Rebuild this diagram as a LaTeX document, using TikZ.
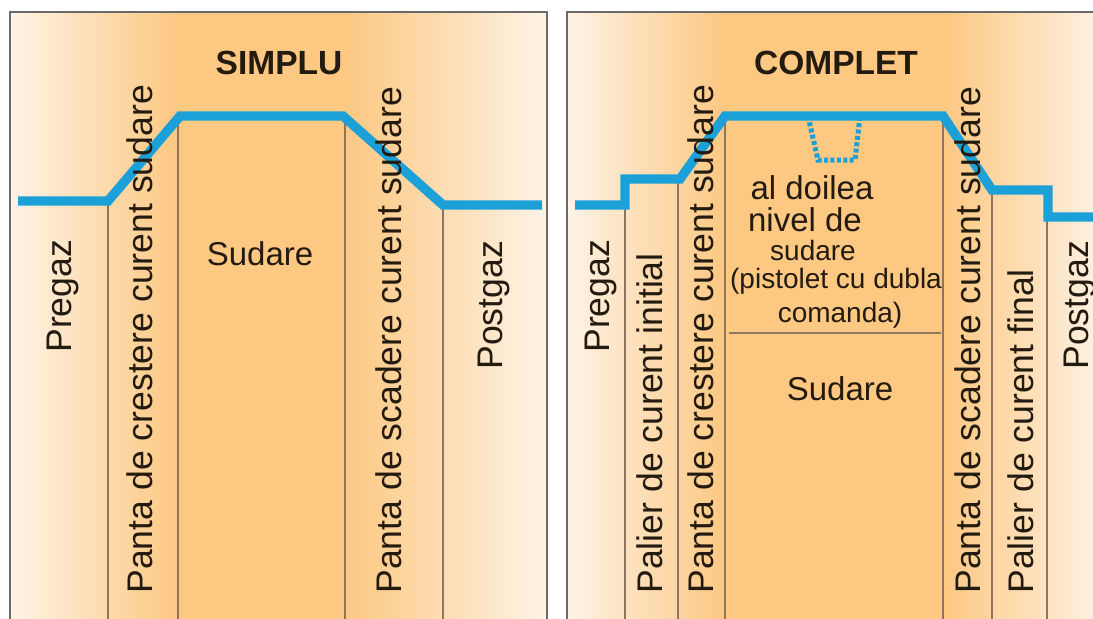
\documentclass[tikz,border=0pt]{standalone}
\usepackage{fontspec}
\setmainfont{Liberation Sans}
\usepackage{tikz}
\usetikzlibrary{positioning}
\definecolor{cream}{HTML}{FEF3E6}
\definecolor{amber}{HTML}{FCC882}
\definecolor{weldblue}{HTML}{1BA0D7}
\definecolor{sepline}{HTML}{8E7560}
\definecolor{framegray}{HTML}{6A6A6A}
\definecolor{ink}{HTML}{231A10}

\begin{document}
\begin{tikzpicture}[
        x=0.5pt, y=-0.5pt, % pixel grid, y down
        heading/.style={font=\fontsize{16.75}{18}\selectfont\bfseries, anchor=base, inner sep=0pt, text=ink},
        plain/.style={font=\fontsize{16.5}{18}\selectfont, anchor=base, inner sep=0pt, text=ink},
        note/.style={font=\fontsize{14}{16}\selectfont, anchor=base, inner sep=0pt, text=ink},
        phase/.style={font=\fontsize{17.8}{19}\selectfont, rotate=90, anchor=base west, inner sep=0pt, text=ink},
        current/.style={draw=weldblue, line width=4.7pt},
        divider/.style={draw=sepline, line width=0.7pt},
        panel/.style={draw=framegray, line width=1.2pt}
    ]
    \useasboundingbox (0,0) rectangle (1093,618);
    \clip (0,0) rectangle (1093,618);

    % --- Backgrounds ---
    \fill[left color=cream, right color=amber] (10,12) rectangle (178,640);
    \fill[amber] (178,12) rectangle (345,640);
    \fill[left color=amber, right color=cream] (345,12) rectangle (547,640);

    \fill[left color=cream, right color=amber] (567,12) rectangle (725,640);
    \fill[amber] (725,12) rectangle (943,640);
    \fill[left color=amber, right color=cream] (943,12) rectangle (1105,640);

    % --- Column dividers ---
    \draw[divider] (108,201) -- (108,640);
    \draw[divider] (178,116) -- (178,640);
    \draw[divider] (345,116) -- (345,640);
    \draw[divider] (443,205) -- (443,640);

    \draw[divider] (625,205) -- (625,640);
    \draw[divider] (678,179) -- (678,640);
    \draw[divider] (725,116) -- (725,640);
    \draw[divider] (943,116) -- (943,640);
    \draw[divider] (992,190) -- (992,640);
    \draw[divider] (1047,217) -- (1047,640);
    \draw[divider] (729,333) -- (941,333);

    % --- Current curves ---
    \draw[current] (18,201) -- (108,201) -- (180,116) -- (343,116) -- (443,205) -- (542,205);
    \draw[current] (575,205) -- (625,205) -- (625,179) -- (680,179) -- (725,116)
        -- (943,116) -- (992,190) -- (1048,190) -- (1048,217) -- (1100,217);
    \draw[draw=weldblue, line width=2.5pt, dash pattern=on 2pt off 1.2pt]
        (808,116) -- (818,160) -- (855,160) -- (860,116);

    % --- Frames ---
    \draw[panel] (10,12) rectangle (547,640);
    \draw[panel] (567,12) rectangle (1110,640);

    % --- Nodes: SIMPLU ---
    \node[heading] (simplu) at (279,74) {SIMPLU};
    \node[plain] (sudareA) at (260,265) {Sudare};
    \node[phase] (pregazA) at (71,353) {Pregaz};
    \node[phase] (urcareA) at (152,594) {Panta de crestere curent sudare};
    \node[phase] (coborireA) at (401,594) {Panta de scadere curent sudare};
    \node[phase] (postgazA) at (502,370) {Postgaz};

    % --- Nodes: COMPLET ---
    \node[heading] (complet) at (836,74) {COMPLET};
    \node[phase] (pregazB) at (609,353) {Pregaz};
    \node[phase] (initialB) at (662,594) {Palier de curent initial};
    \node[phase] (urcareB) at (713,594) {Panta de crestere curent sudare};
    \node[phase] (coborireB) at (980,594) {Panta de scadere curent sudare};
    \node[phase] (finalB) at (1033,594) {Palier de curent final};
    \node[phase] (postgazB) at (1088,370) {Postgaz};

    \node[plain] (nivel1) at (812,199) {al doilea};
    \node[plain] (nivel2) at (805,231) {nivel de};
    \node[note] (nivel3) at (813,260) {sudare};
    \node[note] (nivel4) at (836,288) {(pistolet cu dubla};
    \node[note] (nivel5) at (840,322) {comanda)};
    \node[plain] (sudareB) at (840,400) {Sudare};

\end{tikzpicture}
\end{document}
